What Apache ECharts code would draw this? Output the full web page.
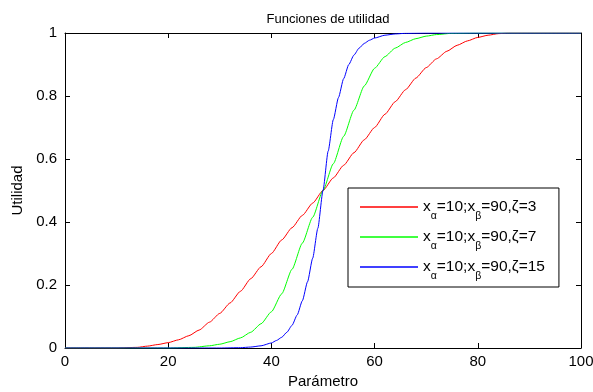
<!DOCTYPE html>
<html>
<head>
<meta charset="utf-8">
<script src="https://cdn.jsdelivr.net/npm/echarts@6/dist/echarts.min.js"></script>
<style>
  html, body { margin: 0; padding: 0; background: #fff; }
  #chart { width: 593px; height: 392px; }
</style>
</head>
<body>
<div id="chart"></div>
<script>
// Utility curves, one per steepness parameter ζ
const redX = [0, 10, 14, 16, 18, 20, 22, 24, 26, 28, 30, 32, 34, 36, 38, 40, 42, 44, 46, 48, 50, 52, 54, 56, 58, 60, 62, 64, 66, 68, 70, 72, 74, 76, 78, 80, 82, 84, 86, 90, 100];
const redY = [0, 0, 0.002, 0.006, 0.011, 0.017, 0.026, 0.039, 0.057, 0.082, 0.11, 0.143, 0.18, 0.22, 0.258, 0.30, 0.343, 0.382, 0.421, 0.46, 0.5, 0.54, 0.58, 0.62, 0.661, 0.70, 0.742, 0.782, 0.82, 0.857, 0.89, 0.918, 0.942, 0.961, 0.975, 0.986, 0.993, 0.998, 1, 1, 1];

const greenX = [0, 20, 25, 28, 30, 32, 34, 36, 38, 40, 42, 44, 46, 48, 50, 52, 54, 56, 58, 60, 62, 64, 66, 68, 70, 72, 75, 80, 100];
const greenY = [0, 0, 0.002, 0.007, 0.012, 0.02, 0.032, 0.05, 0.077, 0.115, 0.172, 0.25, 0.333, 0.415, 0.5, 0.585, 0.672, 0.755, 0.832, 0.888, 0.925, 0.952, 0.97, 0.982, 0.99, 0.995, 0.999, 1, 1];

const blueX = [0, 30, 34, 36, 38, 40, 41, 42, 43, 44, 45, 46, 47, 48, 49, 50, 51, 52, 53, 54, 55, 56, 57, 58, 59, 60, 62, 64, 66, 70, 100];
const blueY = [0, 0, 0.001, 0.003, 0.007, 0.016, 0.024, 0.034, 0.05, 0.072, 0.105, 0.15, 0.21, 0.285, 0.38, 0.5, 0.625, 0.725, 0.795, 0.855, 0.9, 0.93, 0.952, 0.967, 0.977, 0.984, 0.993, 0.997, 0.999, 1, 1];

// Legend parameters: x_alpha, x_beta, zeta
const xAlpha = 10;
const xBeta = 90;
const zetas = [3, 7, 15];

const xTicks = [0, 20, 40, 60, 80, 100];
const yTicks = [0, 0.2, 0.4, 0.6, 0.8, 1];

const FONT = 'Liberation Sans, Arial, Helvetica, sans-serif';

function pairs(xs, ys) { return xs.map((x, i) => [x, ys[i]]); }

const names = zetas.map(z => 'z' + z);
const colors = ['#ff0000', '#00ff00', '#0000ff'];
const seriesData = [pairs(redX, redY), pairs(greenX, greenY), pairs(blueX, blueY)];

const tickStep = (arr) => Math.round((arr[1] - arr[0]) * 1000) / 1000;

const chart = echarts.init(document.getElementById('chart'), null, { renderer: 'canvas' });

const axisCommon = {
  type: 'value',
  axisLine: { show: true, onZero: false, lineStyle: { color: '#000', width: 1 } },
  axisTick: { show: true, inside: true, length: 5, lineStyle: { color: '#000', width: 1 } },
  splitLine: { show: false },
};

chart.setOption({
  animation: false,
  backgroundColor: '#fff',
  textStyle: { fontFamily: FONT },
  title: {
    text: 'Funciones de utilidad',
    left: 323, top: 8, textAlign: 'center',
    textStyle: { fontFamily: FONT, fontSize: 13, fontWeight: 'normal', color: '#000' }
  },
  grid: { left: 65, right: 12, top: 33, bottom: 44, outerBoundsMode: 'none', containLabel: false },
  xAxis: [
    Object.assign({}, axisCommon, {
      position: 'bottom',
      min: xTicks[0], max: xTicks[xTicks.length - 1], interval: tickStep(xTicks),
      axisLabel: { color: '#000', fontSize: 15, fontFamily: FONT, margin: 6 },
      name: 'Parámetro', nameLocation: 'middle', nameGap: 24,
      nameTextStyle: { color: '#000', fontSize: 15, fontFamily: FONT }
    }),
    Object.assign({}, axisCommon, {
      position: 'top',
      min: xTicks[0], max: xTicks[xTicks.length - 1], interval: tickStep(xTicks),
      axisLabel: { show: false }
    })
  ],
  yAxis: [
    Object.assign({}, axisCommon, {
      position: 'left',
      min: yTicks[0], max: yTicks[yTicks.length - 1], interval: tickStep(yTicks),
      axisLabel: { color: '#000', fontSize: 15, fontFamily: FONT, margin: 8,
        formatter: v => String(Math.round(v * 10) / 10) },
      name: 'Utilidad', nameLocation: 'middle', nameGap: 37, nameRotate: 90,
      nameTextStyle: { color: '#000', fontSize: 15, fontFamily: FONT }
    }),
    Object.assign({}, axisCommon, {
      position: 'right',
      min: yTicks[0], max: yTicks[yTicks.length - 1], interval: tickStep(yTicks),
      axisLabel: { show: false }
    })
  ],
  legend: {
    orient: 'vertical',
    left: 348, top: 188,
    padding: [4, 14, 5, 12],
    itemGap: 0,
    icon: 'rect',
    itemWidth: 58, itemHeight: 1.4,
    backgroundColor: '#fff',
    borderColor: '#000', borderWidth: 1, borderRadius: 0,
    data: names.map((n, i) => ({
      name: n,
      itemStyle: { color: colors[i], borderWidth: 0 },
      lineStyle: { color: colors[i], width: 0, opacity: 0 }
    })),
    formatter: (name) => {
      const z = zetas[names.indexOf(name)];
      return '{b|x}{s|\u03b1}{b|=' + xAlpha + ';x}{s|\u03b2}{b|=' + xBeta + ',\u03b6=' + z + '}';
    },
    textStyle: {
      color: '#000', fontFamily: FONT, fontSize: 15.5,
      rich: {
        b: { fontSize: 15.5, fontFamily: FONT, color: '#000', lineHeight: 17 },
        s: { fontSize: 10.5, fontFamily: FONT, color: '#000', lineHeight: 11, padding: [19, 0, 0, 0] }
      }
    }
  },
  series: names.map((n, i) => ({
    name: n,
    type: 'line',
    data: seriesData[i],
    symbol: 'none',
    smooth: 0.2,
    smoothMonotone: 'x',
    color: colors[i],
    itemStyle: { color: colors[i] },
    lineStyle: { color: colors[i], width: 1 },
    z: 3 + i
  }))
});
</script>
</body>
</html>
